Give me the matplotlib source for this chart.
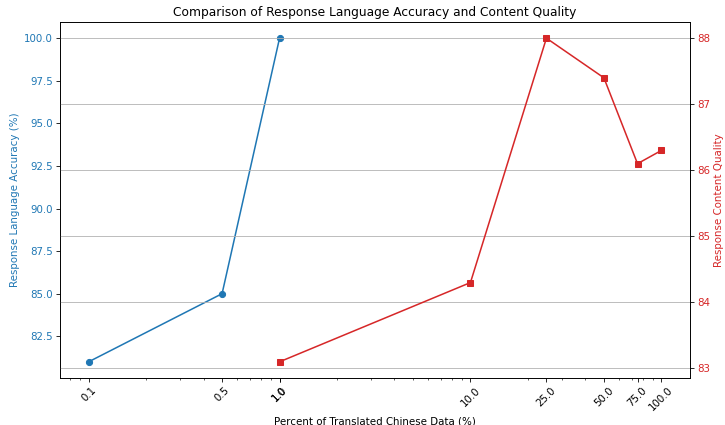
import matplotlib
matplotlib.use("Agg")
import matplotlib.pyplot as plt

acc_x = [0.1, 0.5, 1.0]
acc_y = [81.0, 85.0, 100.0]
qual_x = [1.0, 10.0, 25.0, 50.0, 75.0, 100.0]
qual_y = [83.1, 84.3, 88.0, 87.4, 86.1, 86.3]
tick_vals = acc_x + qual_x
tick_labels = [str(v) for v in tick_vals]

DPI = 73.6
fig, ax1 = plt.subplots(figsize=(725 / DPI, 425 / DPI), dpi=DPI)
ax1.plot(acc_x, acc_y, marker='o', color='tab:blue')
ax1.set_xscale('log')
ax1.set_xlabel('Percent of Translated Chinese Data (%)')
ax1.set_ylabel('Response Language Accuracy (%)', color='tab:blue')
ax1.tick_params(axis='y', labelcolor='tab:blue')

ax2 = ax1.twinx()
ax2.plot(qual_x, qual_y, marker='s', color='tab:red')
ax2.set_ylabel('Response Content Quality', color='tab:red')
ax2.tick_params(axis='y', labelcolor='tab:red')
ax2.grid(True, axis='y')

ax1.set_xticks(tick_vals)
ax1.set_xticklabels(tick_labels, rotation=45)

plt.title('Comparison of Response Language Accuracy and Content Quality')
fig.subplots_adjust(left=60 / 725, right=690 / 725, top=1 - 22 / 425, bottom=1 - 378 / 425)
fig.savefig('out.png', dpi=DPI)
